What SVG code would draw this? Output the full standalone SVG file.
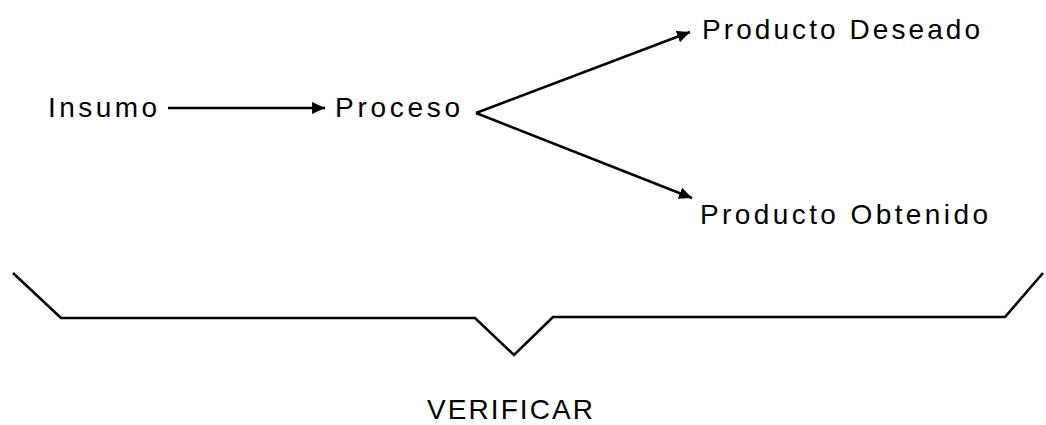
<svg xmlns="http://www.w3.org/2000/svg" width="1046" height="425" viewBox="0 0 1046 425">
<style>
  .lbl { font-family: "Liberation Sans", Arial, sans-serif; font-size: 28px; fill: #000; }
  .ln { fill: none; stroke: #000; stroke-width: 2.6; stroke-linejoin: miter; }
</style>
<defs>
  <marker id="ah" markerUnits="userSpaceOnUse" markerWidth="14" markerHeight="12" refX="13" refY="6" orient="auto">
    <path d="M0,0 L13,6 L0,12 Z" fill="#000"/>
  </marker>
</defs>
<rect width="1046" height="425" fill="#fff"/>
<g id="connectors">
  <line class="ln" x1="168" y1="108" x2="325" y2="108" marker-end="url(#ah)"/>
  <line class="ln" x1="476" y1="113" x2="690" y2="32" marker-end="url(#ah)"/>
  <line class="ln" x1="476" y1="113" x2="692" y2="198" marker-end="url(#ah)"/>
</g>
<g id="node-insumo"><text class="lbl" x="48" y="117" textLength="109" lengthAdjust="spacing">Insumo</text></g>
<g id="node-proceso"><text class="lbl" x="335" y="117" textLength="125" lengthAdjust="spacing">Proceso</text></g>
<g id="node-deseado"><text class="lbl" x="702" y="39" textLength="278" lengthAdjust="spacing">Producto Deseado</text></g>
<g id="node-obtenido"><text class="lbl" x="700" y="224" textLength="288" lengthAdjust="spacing">Producto Obtenido</text></g>
<g id="bracket">
  <polyline class="ln" points="13,273 61,318 475,318 514,355 553,317 1005,317 1043,273"/>
</g>
<g id="node-verificar"><text class="lbl" x="427" y="419" textLength="166" lengthAdjust="spacing">VERIFICAR</text></g>
</svg>
